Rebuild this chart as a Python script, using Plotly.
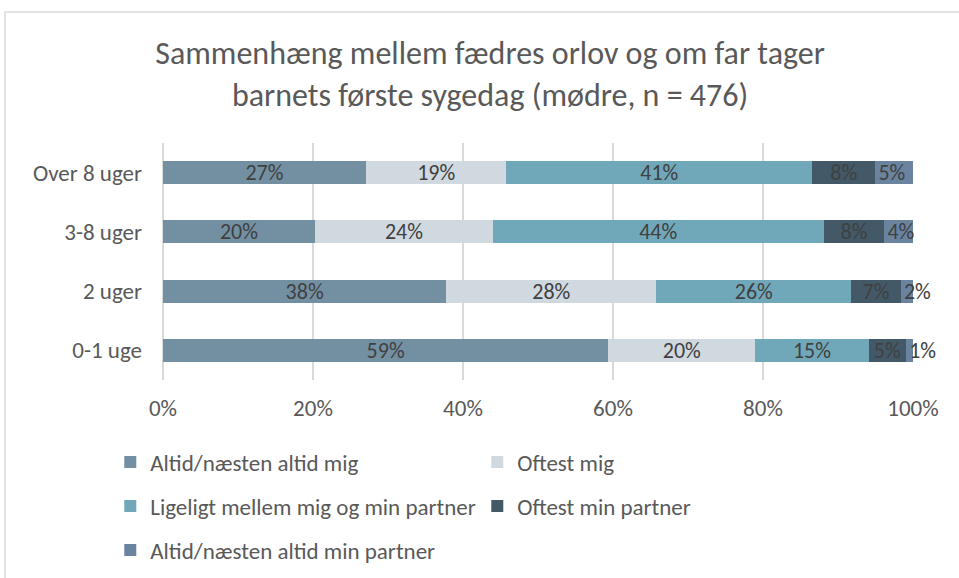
import plotly.graph_objects as go

categories = ["0-1 uge", "2 uger", "3-8 uger", "Over 8 uger"]
series_names = [
    "Altid/næsten altid mig",
    "Oftest mig",
    "Ligeligt mellem mig og min partner",
    "Oftest min partner",
    "Altid/næsten altid min partner",
]
# percent per category (bottom to top)
altid_mig = [59.4, 37.8, 20.3, 27.1]
oftest_mig = [19.6, 28.0, 23.7, 18.7]
ligeligt = [15.1, 26.0, 44.1, 40.8]
oftest_partner = [5.0, 6.6, 8.1, 8.4]
altid_partner = [0.9, 1.6, 3.8, 5.0]
x_ticks = [0, 20, 40, 60, 80, 100]
x_ticktext = ["0%", "20%", "40%", "60%", "80%", "100%"]

values = [altid_mig, oftest_mig, ligeligt, oftest_partner, altid_partner]
colors = ["#7390a3", "#d0d9e0", "#70a8ba", "#435968", "#6a84a0"]
legends = ["legend", "legend", "legend2", "legend2", "legend3"]
# last segment is tiny, Excel lets its label spill out to the right
anchors = ["middle", "middle", "middle", "middle", "start"]

FONT = "Carlito, Calibri, Lato, sans-serif"
GREY = "#595959"

fig = go.Figure()
for name, vals, col, lg, anc in zip(series_names, values, colors, legends, anchors):
    fig.add_trace(go.Bar(
        y=categories, x=vals, name=name, orientation="h",
        marker=dict(color=col, line=dict(width=0)),
        texttemplate="%{x:.0f}%", textposition="inside", textangle=0,
        insidetextanchor=anc, constraintext="none", cliponaxis=False,
        textfont=dict(color="#404040", size=22, family=FONT),
        legend=lg,
    ))

leg_common = dict(orientation="h", xref="container", yref="container",
                  xanchor="left", yanchor="middle", entrywidth=322,
                  traceorder="normal",
                  font=dict(size=23, color=GREY, family=FONT),
                  bgcolor="rgba(0,0,0,0)", itemclick=False)

fig.update_layout(
    barmode="stack", bargap=0.61,
    width=959, height=578,
    paper_bgcolor="white", plot_bgcolor="white",
    margin=dict(l=163, r=46, t=143, b=198),
    font=dict(family=FONT, color=GREY),
    title=dict(
        text="Sammenhæng mellem fædres orlov og om far tager<br>barnets første sygedag (mødre, n = 476)",
        x=0.511, xref="container", y=1 - 64 / 578, yref="container",
        xanchor="center", yanchor="middle",
        font=dict(size=32, color=GREY, family=FONT),
    ),
    xaxis=dict(range=[0, 100.01], tickvals=x_ticks, ticktext=x_ticktext,
               showgrid=True, gridcolor="#d9d9d9", gridwidth=2,
               zeroline=True, zerolinecolor="#d9d9d9", zerolinewidth=2,
               ticks="", ticklabelstandoff=12,
               tickfont=dict(size=23, color=GREY, family=FONT)),
    yaxis=dict(ticks="", ticklabelstandoff=20, showgrid=False,
               tickfont=dict(size=23, color=GREY, family=FONT)),
    uniformtext=dict(minsize=22, mode="show"),
    legend=dict(x=0.115, y=1 - 462 / 578, **leg_common),
    legend2=dict(x=0.115, y=1 - 506 / 578, **leg_common),
    legend3=dict(x=0.115, y=1 - 550 / 578, **leg_common),
    shapes=[dict(type="rect", xref="paper", yref="paper",
                 x0=(5 - 163) / 750, x1=2, y0=-3, y1=(380 - 12) / 237,
                 line=dict(color="#d9d9d9", width=1.5), layer="below")],
)

fig.write_html("out.html", config={"displayModeBar": False},
               post_script="document.body.style.margin='0';")
